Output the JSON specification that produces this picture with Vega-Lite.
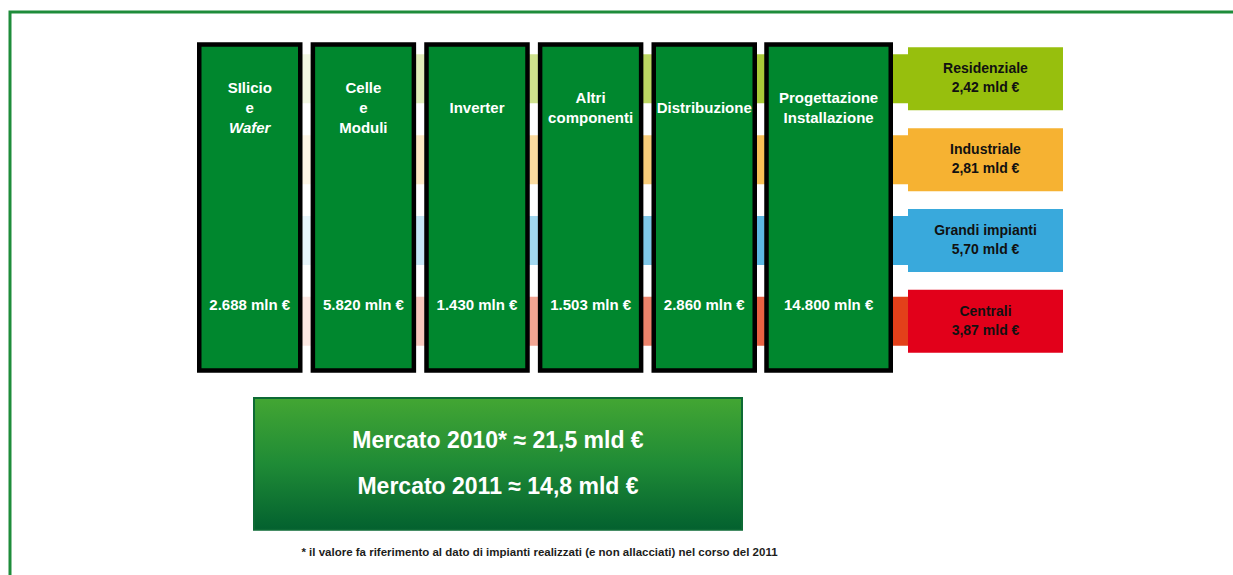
{
  "$schema": "https://vega.github.io/schema/vega-lite/v6.json",
  "width": 1233,
  "height": 575,
  "autosize": {"type": "fit", "contains": "padding"},
  "padding": {"left": 10, "top": 12, "right": -3, "bottom": -3},
  "background": "white",
  "config": {"view": {"stroke": "#1e8c3a", "strokeWidth": 3}},
  "datasets": {
    "fasi": [
      {"fase": "Silicio e Wafer", "righe": ["SIlicio", "e"], "corsivo": "Wafer", "valore": "2.688 mln €"},
      {"fase": "Celle e Moduli", "righe": ["Celle", "e", "Moduli"], "valore": "5.820 mln €"},
      {"fase": "Inverter", "righe": ["Inverter"], "valore": "1.430 mln €"},
      {"fase": "Altri componenti", "righe": ["Altri", "componenti"], "valore": "1.503 mln €"},
      {"fase": "Distribuzione", "righe": ["Distribuzione"], "valore": "2.860 mln €"},
      {"fase": "Progettazione Installazione", "righe": ["Progettazione", "Installazione"], "valore": "14.800 mln €"}
    ],
    "segmenti": [
      {"segmento": "Residenziale", "valore": "2,42 mld €"},
      {"segmento": "Industriale", "valore": "2,81 mld €"},
      {"segmento": "Grandi impianti", "valore": "5,70 mld €"},
      {"segmento": "Centrali", "valore": "3,87 mld €"}
    ],
    "flussi": [
      {"fase": "Silicio e Wafer", "segmento": "Residenziale"},
      {"fase": "Silicio e Wafer", "segmento": "Industriale"},
      {"fase": "Silicio e Wafer", "segmento": "Grandi impianti"},
      {"fase": "Silicio e Wafer", "segmento": "Centrali"},
      {"fase": "Celle e Moduli", "segmento": "Residenziale"},
      {"fase": "Celle e Moduli", "segmento": "Industriale"},
      {"fase": "Celle e Moduli", "segmento": "Grandi impianti"},
      {"fase": "Celle e Moduli", "segmento": "Centrali"},
      {"fase": "Inverter", "segmento": "Residenziale"},
      {"fase": "Inverter", "segmento": "Industriale"},
      {"fase": "Inverter", "segmento": "Grandi impianti"},
      {"fase": "Inverter", "segmento": "Centrali"},
      {"fase": "Altri componenti", "segmento": "Residenziale"},
      {"fase": "Altri componenti", "segmento": "Industriale"},
      {"fase": "Altri componenti", "segmento": "Grandi impianti"},
      {"fase": "Altri componenti", "segmento": "Centrali"},
      {"fase": "Distribuzione", "segmento": "Residenziale"},
      {"fase": "Distribuzione", "segmento": "Industriale"},
      {"fase": "Distribuzione", "segmento": "Grandi impianti"},
      {"fase": "Distribuzione", "segmento": "Centrali"},
      {"fase": "Progettazione Installazione", "segmento": "Residenziale"},
      {"fase": "Progettazione Installazione", "segmento": "Industriale"},
      {"fase": "Progettazione Installazione", "segmento": "Grandi impianti"},
      {"fase": "Progettazione Installazione", "segmento": "Centrali"}
    ],
    "mercato": [
      {"anno": "2010", "testo": "Mercato 2010* ≈ 21,5 mld €"},
      {"anno": "2011", "testo": "Mercato 2011 ≈ 14,8 mld €"}
    ],
    "nota": [
      {"nota": "*  il valore fa riferimento al dato di impianti realizzati (e non allacciati) nel corso del 2011"}
    ]
  },
  "layer": [
    {
      "layer": [
        {
          "data": {"name": "flussi"},
          "transform": [{"filter": {"field": "fase", "oneOf": ["Silicio e Wafer", "Celle e Moduli", "Inverter", "Altri componenti", "Distribuzione"]}}],
          "mark": {"type": "rect"},
          "encoding": {
            "x": {"field": "fase", "type": "nominal", "scale": {"type": "band", "domain": ["Silicio e Wafer", "Celle e Moduli", "Inverter", "Altri componenti", "Distribuzione"], "range": [189.75, 757.85], "paddingInner": 0, "paddingOuter": 0}, "axis": null},
            "y": {"field": "segmento", "type": "nominal", "scale": {"type": "band", "domain": ["Residenziale", "Industriale", "Grandi impianti", "Centrali"], "range": [42.3, 333.85], "paddingInner": 0.394, "paddingOuter": 0}, "axis": null},
            "color": {"field": "segmento", "type": "nominal", "scale": {"domain": ["Residenziale", "Industriale", "Grandi impianti", "Centrali"], "range": ["#97bf0d", "#f6b232", "#39a9dc", "#e3401a"]}, "legend": null},
            "opacity": {"field": "fase", "type": "ordinal", "scale": {"domain": ["Silicio e Wafer", "Celle e Moduli", "Inverter", "Altri componenti", "Distribuzione", "Progettazione Installazione"], "range": [0.12, 1]}, "legend": null}
          }
        },
        {
          "data": {"name": "fasi"},
          "transform": [{"filter": {"field": "fase", "oneOf": ["Silicio e Wafer", "Celle e Moduli", "Inverter", "Altri componenti", "Distribuzione"]}}],
          "mark": {"type": "rect", "fill": "#00872e", "stroke": "#000000", "strokeWidth": 4.5},
          "encoding": {
            "x": {"field": "fase", "type": "nominal", "scale": {"type": "band", "domain": ["Silicio e Wafer", "Celle e Moduli", "Inverter", "Altri componenti", "Distribuzione"], "range": [189.25, 744.75], "paddingInner": 0.111, "paddingOuter": 0}, "axis": null},
            "y": {"datum": "filiera", "type": "nominal", "scale": {"type": "band", "domain": ["filiera"], "range": [32.5, 358.5], "paddingInner": 0, "paddingOuter": 0}, "axis": null}
          }
        },
        {
          "data": {"name": "fasi"},
          "transform": [{"filter": {"field": "fase", "oneOf": ["Silicio e Wafer", "Celle e Moduli"]}}],
          "mark": {"type": "text", "font": "Liberation Sans", "fontWeight": "bold", "fontSize": 15, "fill": "#ffffff", "lineHeight": 20, "baseline": "middle", "align": "center", "dy": -20},
          "encoding": {
            "x": {"field": "fase", "type": "nominal", "scale": {"type": "band", "domain": ["Silicio e Wafer", "Celle e Moduli", "Inverter", "Altri componenti", "Distribuzione"], "range": [189.25, 744.75], "paddingInner": 0.111, "paddingOuter": 0}, "axis": null},
            "y": {"datum": "titolo", "type": "nominal", "scale": {"type": "point", "domain": ["titolo", "valore"], "range": [96, 293], "padding": 0}, "axis": null},
            "text": {"field": "righe", "type": "nominal"}
          }
        },
        {
          "data": {"name": "fasi"},
          "transform": [{"filter": {"field": "fase", "oneOf": ["Altri componenti"]}}],
          "mark": {"type": "text", "font": "Liberation Sans", "fontWeight": "bold", "fontSize": 15, "fill": "#ffffff", "lineHeight": 20, "baseline": "middle", "align": "center", "dy": -10},
          "encoding": {
            "x": {"field": "fase", "type": "nominal", "scale": {"type": "band", "domain": ["Silicio e Wafer", "Celle e Moduli", "Inverter", "Altri componenti", "Distribuzione"], "range": [189.25, 744.75], "paddingInner": 0.111, "paddingOuter": 0}, "axis": null},
            "y": {"datum": "titolo", "type": "nominal", "scale": {"type": "point", "domain": ["titolo", "valore"], "range": [96, 293], "padding": 0}, "axis": null},
            "text": {"field": "righe", "type": "nominal"}
          }
        },
        {
          "data": {"name": "fasi"},
          "transform": [{"filter": {"field": "fase", "oneOf": ["Inverter", "Distribuzione"]}}],
          "mark": {"type": "text", "font": "Liberation Sans", "fontWeight": "bold", "fontSize": 15, "fill": "#ffffff", "lineHeight": 20, "baseline": "middle", "align": "center", "dy": 0},
          "encoding": {
            "x": {"field": "fase", "type": "nominal", "scale": {"type": "band", "domain": ["Silicio e Wafer", "Celle e Moduli", "Inverter", "Altri componenti", "Distribuzione"], "range": [189.25, 744.75], "paddingInner": 0.111, "paddingOuter": 0}, "axis": null},
            "y": {"datum": "titolo", "type": "nominal", "scale": {"type": "point", "domain": ["titolo", "valore"], "range": [96, 293], "padding": 0}, "axis": null},
            "text": {"field": "righe", "type": "nominal"}
          }
        },
        {
          "data": {"name": "fasi"},
          "transform": [{"filter": "isValid(datum.corsivo)"}],
          "mark": {"type": "text", "font": "Liberation Sans", "fontWeight": "bold", "fontStyle": "italic", "fontSize": 15, "fill": "#ffffff", "baseline": "middle", "align": "center", "dy": 20},
          "encoding": {
            "x": {"field": "fase", "type": "nominal", "scale": {"type": "band", "domain": ["Silicio e Wafer", "Celle e Moduli", "Inverter", "Altri componenti", "Distribuzione"], "range": [189.25, 744.75], "paddingInner": 0.111, "paddingOuter": 0}, "axis": null},
            "y": {"datum": "titolo", "type": "nominal", "scale": {"type": "point", "domain": ["titolo", "valore"], "range": [96, 293], "padding": 0}, "axis": null},
            "text": {"field": "corsivo", "type": "nominal"}
          }
        },
        {
          "data": {"name": "fasi"},
          "transform": [{"filter": {"field": "fase", "oneOf": ["Silicio e Wafer", "Celle e Moduli", "Inverter", "Altri componenti", "Distribuzione"]}}],
          "mark": {"type": "text", "font": "Liberation Sans", "fontWeight": "bold", "fontSize": 15, "fill": "#ffffff", "baseline": "middle", "align": "center"},
          "encoding": {
            "x": {"field": "fase", "type": "nominal", "scale": {"type": "band", "domain": ["Silicio e Wafer", "Celle e Moduli", "Inverter", "Altri componenti", "Distribuzione"], "range": [189.25, 744.75], "paddingInner": 0.111, "paddingOuter": 0}, "axis": null},
            "y": {"datum": "valore", "type": "nominal", "scale": {"type": "point", "domain": ["titolo", "valore"], "range": [96, 293], "padding": 0}, "axis": null},
            "text": {"field": "valore", "type": "nominal"}
          }
        }
      ],
      "resolve": {"scale": {"x": "independent", "y": "independent"}}
    },
    {
      "layer": [
        {
          "data": {"name": "flussi"},
          "transform": [{"filter": {"field": "fase", "equal": "Progettazione Installazione"}}],
          "mark": {"type": "rect"},
          "encoding": {
            "x": {"field": "fase", "type": "nominal", "scale": {"type": "band", "domain": ["Progettazione Installazione"], "range": [763.6, 900.6], "paddingInner": 0, "paddingOuter": 0}, "axis": null},
            "y": {"field": "segmento", "type": "nominal", "scale": {"type": "band", "domain": ["Residenziale", "Industriale", "Grandi impianti", "Centrali"], "range": [42.3, 333.85], "paddingInner": 0.394, "paddingOuter": 0}, "axis": null},
            "color": {"field": "segmento", "type": "nominal", "scale": {"domain": ["Residenziale", "Industriale", "Grandi impianti", "Centrali"], "range": ["#97bf0d", "#f6b232", "#39a9dc", "#e3401a"]}, "legend": null},
            "opacity": {"field": "fase", "type": "ordinal", "scale": {"domain": ["Silicio e Wafer", "Celle e Moduli", "Inverter", "Altri componenti", "Distribuzione", "Progettazione Installazione"], "range": [0.12, 1]}, "legend": null}
          }
        },
        {
          "data": {"name": "fasi"},
          "transform": [{"filter": {"field": "fase", "equal": "Progettazione Installazione"}}],
          "mark": {"type": "rect", "fill": "#00872e", "stroke": "#000000", "strokeWidth": 4.5},
          "encoding": {
            "x": {"field": "fase", "type": "nominal", "scale": {"type": "band", "domain": ["Progettazione Installazione"], "range": [756.5, 880.75], "paddingInner": 0, "paddingOuter": 0}, "axis": null},
            "y": {"datum": "filiera", "type": "nominal", "scale": {"type": "band", "domain": ["filiera"], "range": [32.5, 358.5], "paddingInner": 0, "paddingOuter": 0}, "axis": null}
          }
        },
        {
          "data": {"name": "fasi"},
          "transform": [{"filter": {"field": "fase", "equal": "Progettazione Installazione"}}],
          "mark": {"type": "text", "font": "Liberation Sans", "fontWeight": "bold", "fontSize": 15, "fill": "#ffffff", "lineHeight": 20, "baseline": "middle", "align": "center", "dy": -10},
          "encoding": {
            "x": {"field": "fase", "type": "nominal", "scale": {"type": "band", "domain": ["Progettazione Installazione"], "range": [756.5, 880.75], "paddingInner": 0, "paddingOuter": 0}, "axis": null},
            "y": {"datum": "titolo", "type": "nominal", "scale": {"type": "point", "domain": ["titolo", "valore"], "range": [96, 293], "padding": 0}, "axis": null},
            "text": {"field": "righe", "type": "nominal"}
          }
        },
        {
          "data": {"name": "fasi"},
          "transform": [{"filter": {"field": "fase", "equal": "Progettazione Installazione"}}],
          "mark": {"type": "text", "font": "Liberation Sans", "fontWeight": "bold", "fontSize": 15, "fill": "#ffffff", "baseline": "middle", "align": "center"},
          "encoding": {
            "x": {"field": "fase", "type": "nominal", "scale": {"type": "band", "domain": ["Progettazione Installazione"], "range": [756.5, 880.75], "paddingInner": 0, "paddingOuter": 0}, "axis": null},
            "y": {"datum": "valore", "type": "nominal", "scale": {"type": "point", "domain": ["titolo", "valore"], "range": [96, 293], "padding": 0}, "axis": null},
            "text": {"field": "valore", "type": "nominal"}
          }
        }
      ],
      "resolve": {"scale": {"x": "independent", "y": "independent"}}
    },
    {
      "data": {"name": "segmenti"},
      "encoding": {
        "x": {"datum": "segmenti", "type": "nominal", "scale": {"type": "band", "domain": ["segmenti"], "range": [898, 1053], "paddingInner": 0, "paddingOuter": 0}, "axis": null},
        "y": {"field": "segmento", "type": "nominal", "scale": {"type": "band", "domain": ["Residenziale", "Industriale", "Grandi impianti", "Centrali"], "range": [35.3, 340.85], "paddingInner": 0.2208, "paddingOuter": 0}, "axis": null}
      },
      "layer": [
        {
          "mark": {"type": "rect"},
          "encoding": {
            "color": {"field": "segmento", "type": "nominal", "scale": {"domain": ["Residenziale", "Industriale", "Grandi impianti", "Centrali"], "range": ["#97bf0d", "#f6b232", "#39a9dc", "#e2001a"]}, "legend": null}
          }
        },
        {
          "mark": {"type": "text", "font": "Liberation Sans", "fontWeight": "bold", "fontSize": 14, "fill": "#111111", "baseline": "middle", "align": "center", "dy": -9.5},
          "encoding": {"text": {"field": "segmento", "type": "nominal"}}
        },
        {
          "mark": {"type": "text", "font": "Liberation Sans", "fontWeight": "bold", "fontSize": 14, "fill": "#111111", "baseline": "middle", "align": "center", "dy": 9.5},
          "encoding": {"text": {"field": "valore", "type": "nominal"}}
        }
      ]
    },
    {
      "data": {"name": "mercato"},
      "encoding": {
        "x": {"datum": "mercato", "type": "nominal", "scale": {"type": "band", "domain": ["mercato"], "range": [244, 732], "paddingInner": 0, "paddingOuter": 0}, "axis": null}
      },
      "layer": [
        {
          "transform": [{"aggregate": [{"op": "count", "as": "righe"}]}],
          "mark": {"type": "rect", "stroke": "#0d6a35", "strokeWidth": 2, "fill": {"gradient": "linear", "x1": 0, "y1": 0, "x2": 0, "y2": 1, "stops": [{"offset": 0, "color": "#43a633"}, {"offset": 0.5, "color": "#1f8b36"}, {"offset": 1, "color": "#03612f"}]}},
          "encoding": {
            "y": {"datum": "mercato", "type": "nominal", "scale": {"type": "band", "domain": ["mercato"], "range": [386, 517.7], "paddingInner": 0, "paddingOuter": 0}, "axis": null}
          }
        },
        {
          "mark": {"type": "text", "font": "Liberation Sans", "fontWeight": "bold", "fontSize": 23, "fill": "#ffffff", "baseline": "middle", "align": "center"},
          "encoding": {
            "y": {"field": "anno", "type": "nominal", "scale": {"type": "point", "domain": ["2010", "2011"], "range": [428.5, 474.5], "padding": 0}, "axis": null},
            "text": {"field": "testo", "type": "nominal"}
          }
        }
      ],
      "resolve": {"scale": {"y": "independent"}}
    },
    {
      "data": {"name": "nota"},
      "mark": {"type": "text", "font": "Liberation Sans", "fontWeight": "bold", "fontSize": 11.5, "fill": "#1d1d1b", "baseline": "middle", "align": "center"},
      "encoding": {
        "x": {"datum": "nota", "type": "nominal", "scale": {"type": "band", "domain": ["nota"], "range": [296, 763], "paddingInner": 0, "paddingOuter": 0}, "axis": null},
        "y": {"datum": "nota", "type": "nominal", "scale": {"type": "band", "domain": ["nota"], "range": [534.5, 546.5], "paddingInner": 0, "paddingOuter": 0}, "axis": null},
        "text": {"field": "nota", "type": "nominal"}
      }
    }
  ],
  "resolve": {"scale": {"x": "independent", "y": "independent", "color": "independent"}}
}
